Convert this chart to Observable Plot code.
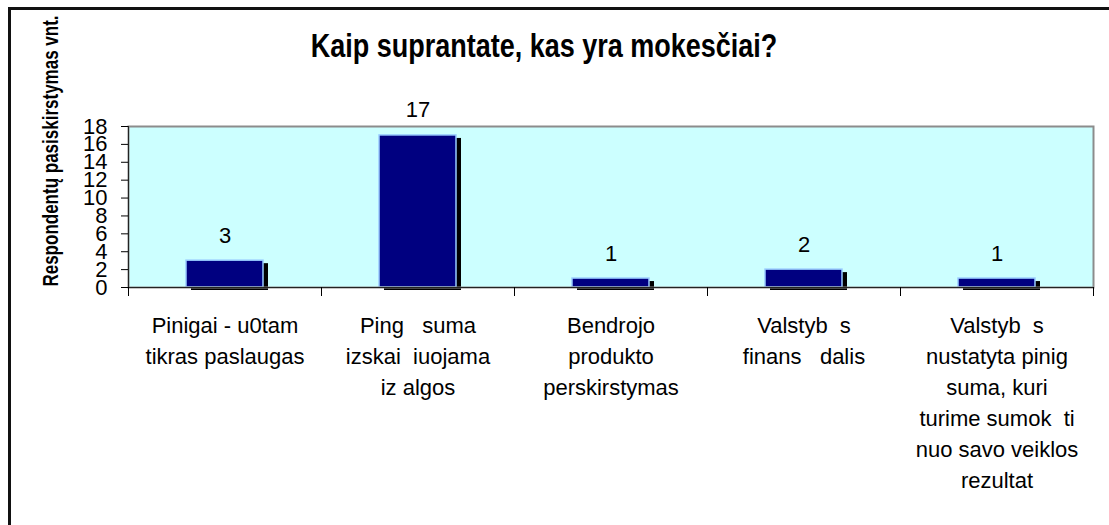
<!DOCTYPE html>
<html>
<head>
<meta charset="utf-8">
<script src="https://cdn.jsdelivr.net/npm/d3@7"></script>
<script src="https://cdn.jsdelivr.net/npm/@observablehq/plot@0.6"></script>
<style>
  html, body { margin: 0; padding: 0; background: #fff; }
  #wrap { position: relative; width: 1109px; height: 525px; overflow: hidden; font-family: "Liberation Sans", Arial, sans-serif; }
  #border { position: absolute; left: 8px; top: 7px; right: -10px; bottom: -10px; border-left: 3px solid #111; border-top: 3px solid #111; }
  #title { position: absolute; left: 0; top: 35px; width: 1088px; text-align: center; font-weight: bold; font-size: 27px; line-height: 27px; color: #000; transform: scale(1, 1.2); transform-origin: 50% 85%; }
  #ylabel { position: absolute; left: 51px; top: 151px; transform: translate(-50%, -50%) rotate(-90deg) scale(1, 1.3); white-space: nowrap; font-weight: bold; font-size: 17px; line-height: 20px; color: #000; }
  #chart { position: absolute; left: 0; top: 0; }
  svg text { white-space: pre; }
</style>
</head>
<body>
<div id="wrap">
  <div id="chart"></div>
  <div id="border"></div>
  <div id="title">Kaip suprantate, kas yra mokesčiai?</div>
  <div id="ylabel">Respondentų pasiskirstymas vnt.</div>
</div>
<script>
const categories = [
  "Pinigai - u0tam\ntikras paslaugas",
  "Ping   suma\nizskai  iuojama\niz algos",
  "Bendrojo\nprodukto\nperskirstymas",
  "Valstyb  s\nfinans   dalis",
  "Valstyb  s\nnustatyta pinig\nsuma, kuri\nturime sumok  ti\nnuo savo veiklos\nrezultat"
];
const values = [3, 17, 1, 2, 1];
const yTicks = [0, 2, 4, 6, 8, 10, 12, 14, 16, 18];

const data = categories.map((c, i) => ({category: c, value: values[i]}));

const W = 1109, H = 525, ML = 128, MR = 16, MT = 126, MB = 238;
const step = (W - ML - MR) / categories.length;

const chart = Plot.plot({
  width: W,
  height: H,
  marginLeft: ML,
  marginRight: MR,
  marginTop: MT,
  marginBottom: MB,
  style: {fontFamily: '"Liberation Sans", Arial, sans-serif', color: "#000", background: "transparent"},
  x: {domain: categories, paddingInner: 0.6, paddingOuter: 0.3, axis: null},
  y: {domain: [0, 18], axis: null},
  marks: [
    Plot.frame({fill: "#ccffff", stroke: null}),
    Plot.barY(data, {x: "category", y: "value", fill: "#000", dx: 5, dy: 3}),
    Plot.barY(data, {x: "category", y: "value", fill: "#000080", stroke: "#99ccff", strokeWidth: 1.5}),
    Plot.frame({stroke: "#8c8c8c", strokeWidth: 2}),
    Plot.ruleY([0], {stroke: "#222", strokeWidth: 1}),
    Plot.ruleX([categories[0]], {dx: -step / 2, y1: 0, y2: 18, stroke: "#222", strokeWidth: 1}),
    Plot.axisY({ticks: yTicks, tickSize: 7, tickPadding: 14, fontSize: 22, label: null}),
    Plot.axisX({tickFormat: () => "", dx: -step / 2, tickSize: 9, label: null}),
    Plot.axisX({tickFormat: () => "", dx: step / 2, tickSize: 9, label: null}),
    Plot.text(data, {x: "category", y: "value", text: d => String(d.value), dy: -25, fontSize: 22, lineAnchor: "middle", fill: "#000"}),
    Plot.text(categories, {x: d => d, text: d => d, frameAnchor: "bottom", lineAnchor: "top", dy: 23, fontSize: 22, lineHeight: 1.41, fill: "#000"})
  ]
});
document.getElementById("chart").appendChild(chart);
</script>
</body>
</html>
